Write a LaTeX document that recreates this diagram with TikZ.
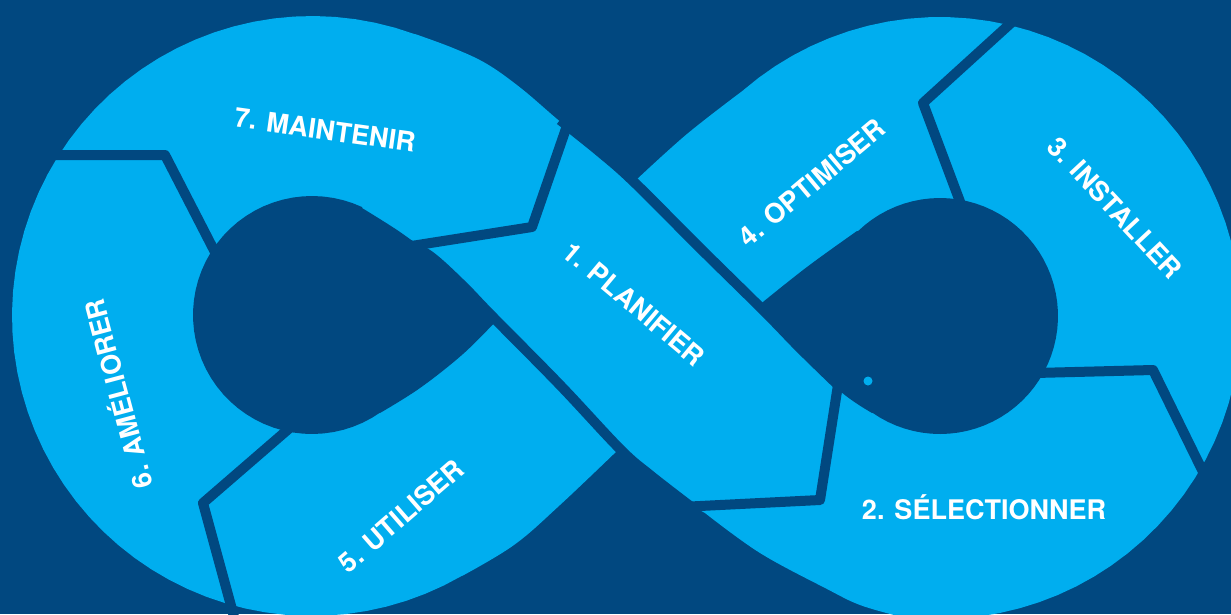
\documentclass[tikz,border=0pt]{standalone}
\usepackage{fontspec}
\setmainfont{TeX Gyre Heros}
\definecolor{navy}{RGB}{1,72,128}
\definecolor{sky}{RGB}{0,174,239}
\begin{document}
\begin{tikzpicture}[x=1pt,y=-1pt,
  sep/.style={draw=navy, line width=10pt, line join=round, line cap=butt},
  lbl/.style={text=white, font=\fontsize{27}{30}\selectfont\bfseries, inner sep=0pt, text height=19.4pt, text depth=0pt}]
\fill[navy] (0,0) rectangle (1231,614);
\useasboundingbox (0,0) rectangle (1231,614);
% infinity band (outer outline)
\fill[sky] plot[smooth, tension=0.6] coordinates {(634,182) (687,134) (745,89)}
  -- plot[domain=229:458, samples=60, variable=\t] ({940+301*cos(\t)},{318+301*sin(\t)})
  -- plot[smooth, tension=0.6] coordinates {(898,616) (860,605) (827,589) (760,553) (705,513)}
  -- (687,503) -- (620,448)
  -- plot[smooth, tension=0.6] coordinates {(620,448) (560,505) (514,545) (462,576)}
  -- plot[domain=60:290, samples=60, variable=\t] ({312+300*cos(\t)},{316+300*sin(\t)})
  -- plot[smooth, tension=0.6] coordinates {(415,34) (453,48) (487,64) (522,89) (563,124) (600,152) (634,182)}
  -- cycle;
% left hole
\fill[navy] plot[smooth, tension=0.6] coordinates {(497,320) (462,284) (430,255) (400,232) (362,208)}
  -- plot[domain=295:55, samples=50, variable=\t] ({312+119*cos(\t)},{315+119*sin(\t)})
  -- plot[smooth, tension=0.6] coordinates {(380,413) (420,388) (463,354) (497,320)} -- cycle;
% right hole
\fill[navy] plot[smooth, tension=0.6] coordinates {(758,306) (807,267) (857,231)}
  -- plot[domain=226:485, samples=60, variable=\t] ({940+118*cos(\t)},{316+118*sin(\t)})
  -- plot[smooth, tension=0.6] coordinates {(872,413) (840,391) (800,349) (758,306)} -- cycle;
% edges of the crossing band
\draw[sep] plot[smooth, tension=0.6] coordinates {(560,120) (600,152) (634,182) (700,248) (764,311) (800,348) (838,385)};
\draw[sep] plot[smooth, tension=0.6] coordinates {(405,243) (430,256) (462,285) (490,314) (560,385) (620,449) (650,475) (690,506)};
% separators
\draw[sep] (45,155) -- (165,155) -- (218,258);
\draw[sep] (292,426) -- (203,503) -- (236,624);
\draw[sep] (570,117) -- (532,227) -- (405,247);
\draw[sep] (840,372) -- (820,500) -- (680,507);
\draw[sep] (1022,13) -- (923,103) -- (962,207);
\draw[sep] (1035,373) -- (1153,370) -- (1208,482);
% small dot
\fill[sky] (868,381) circle[radius=4.5];
% labels
\node[lbl, rotate=-8] (t7) at (325,130) {7. MAINTENIR};
\node[lbl, rotate=-40] (t1) at (634,304) {1. PLANIFIER};
\node[lbl] (t2) at (984,510) {2. SÉLECTIONNER};
\node[lbl, rotate=-47] (t3) at (1115,208) {3. INSTALLER};
\node[lbl, rotate=40] (t4) at (812,183) {4. OPTIMISER};
\node[lbl, rotate=41] (t5) at (401,516) {5. UTILISER};
\node[lbl, rotate=105] (t6) at (119,394) {6. AMÉLIORER};
\end{tikzpicture}
\end{document}
